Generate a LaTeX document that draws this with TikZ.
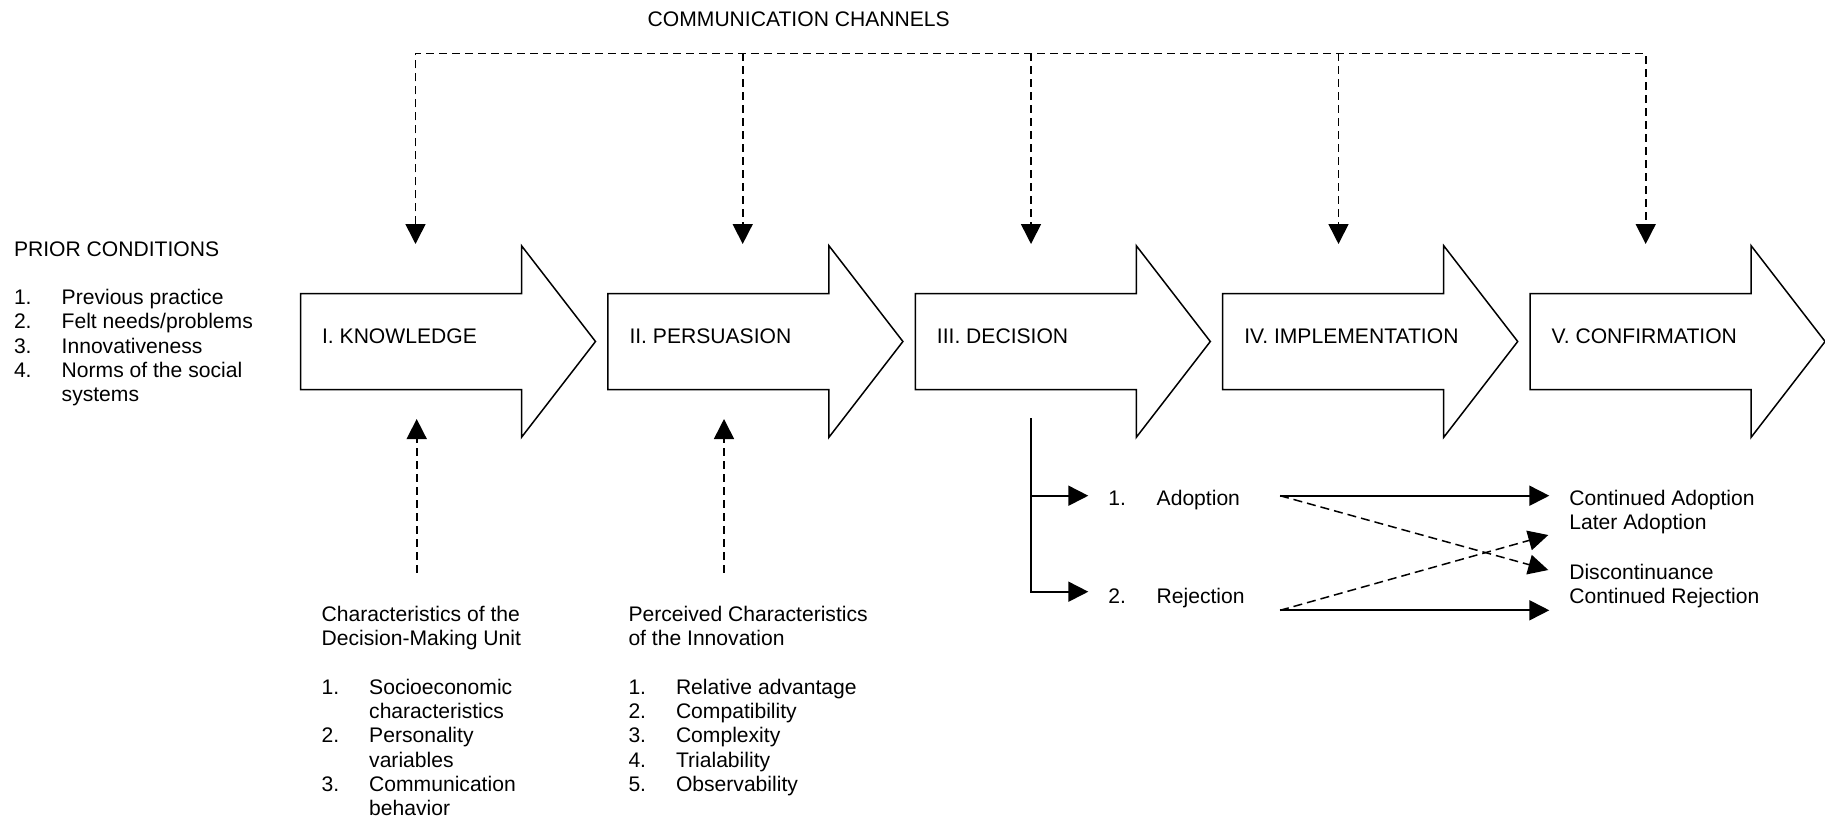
\documentclass[tikz,border=0pt]{standalone}
\usepackage{fontspec}
\setmainfont{Liberation Sans}
\usetikzlibrary{arrows.meta}
\begin{document}
\begin{tikzpicture}[x=1pt,y=-1pt,
  every node/.style={inner sep=0pt, outer sep=0pt, anchor=base west,
    font=\fontsize{21.1}{24.3}\selectfont},
  stageshape/.style={draw=black, line width=1.5pt, line join=miter, fill=white},
  chan/.style={line width=1.6pt, dash pattern=on 8pt off 5pt},
  crossline/.style={line width=1.5pt, dash pattern=on 9pt off 5pt},
  solidline/.style={line width=1.8pt},
  tipend/.style={-{Triangle[width=20pt,length=20pt]}},
  tipboth/.style={{Triangle[width=20pt,length=20pt]}-{Triangle[width=20pt,length=20pt]}},
]
\useasboundingbox (0,0) rectangle (1825,822);

% the five stage arrows with their labels
\foreach \i/\name/\lbl in {0/k/I. KNOWLEDGE, 1/p/II. PERSUASION, 2/d/III. DECISION,
                           3/m/IV. IMPLEMENTATION, 4/c/V. CONFIRMATION} {
  \pgfmathsetmacro\L{300.5+307.4*\i}
  \draw[stageshape] (\L,293.5) -- ++(221,0) -- ++(0,-47.8) -- ++(74,95.8)
    -- ++(-74,95.8) -- ++(0,-47.8) -- ++(-221,0) -- cycle;
  \node (\name) at (\L+21.6,343.5) {\lbl};
}

% communication channels feeding every stage
\node (channels) at (647.7,26) {COMMUNICATION CHANNELS};
\foreach \s/\x in {k/415.5, p/742.7, d/1031, m/1338.5, c/1645.7} {
  \coordinate (\s-top) at (\x,53.3);
  \coordinate (\s-in) at (\x,244);
}
\draw[chan,tipboth] (k-in) -- (k-top) -- (c-top) -- (c-in);
\foreach \s in {p,d,m} \draw[chan,tipend] (\s-top) -- (\s-in);

% prior conditions
\node (prior) at (14,256) {\begin{tabular}[t]{@{}p{47.7pt}@{}l@{}}
  \multicolumn{2}{@{}l@{}}{PRIOR CONDITIONS}\\
  \\
  1. & Previous practice\\
  2. & Felt needs/problems\\
  3. & Innovativeness\\
  4. & Norms of the social\\
     & systems
\end{tabular}};

% characteristics feeding knowledge and persuasion
\coordinate (k-from) at (416.7,572.7);
\coordinate (k-up) at (416.7,419);
\coordinate (p-from) at (724,572.7);
\coordinate (p-up) at (724,419);
\draw[chan,tipend] (k-from) -- (k-up);
\draw[chan,tipend] (p-from) -- (p-up);

\node (unit) at (321.7,621.4) {\begin{tabular}[t]{@{}p{47.5pt}@{}l@{}}
  \multicolumn{2}{@{}l@{}}{Characteristics of the}\\
  \multicolumn{2}{@{}l@{}}{Decision-Making Unit}\\
  \\
  1. & Socioeconomic\\
     & characteristics\\
  2. & Personality\\
     & variables\\
  3. & Communication\\
     & behavior
\end{tabular}};

\node (innov) at (628.5,621.4) {\begin{tabular}[t]{@{}p{47.5pt}@{}l@{}}
  \multicolumn{2}{@{}l@{}}{Perceived Characteristics}\\
  \multicolumn{2}{@{}l@{}}{of the Innovation}\\
  \\
  1. & Relative advantage\\
  2. & Compatibility\\
  3. & Complexity\\
  4. & Trialability\\
  5. & Observability
\end{tabular}};

% decision outcomes
\coordinate (d-out) at (1031,418.3);
\coordinate (adopt-in) at (1088.3,495.7);
\coordinate (reject-in) at (1088.3,591.7);
\draw[solidline,tipend] (d-out) |- (reject-in);
\draw[solidline,tipend] (d-out |- adopt-in) -- (adopt-in);

\node (adopt) at (1108.3,505.5) {\makebox[48.4pt][l]{1.}Adoption};
\node (reject) at (1108.3,603.3) {\makebox[48.4pt][l]{2.}Rejection};

% later consequences
\coordinate (adopt-out) at (1280,495.7);
\coordinate (reject-out) at (1280,610.3);
\coordinate (cont-ad) at (1549.3,495.7);
\coordinate (later) at (1548.3,535);
\coordinate (discont) at (1548.3,570);
\coordinate (cont-rej) at (1549.3,610.3);
\draw[solidline,tipend] (adopt-out) -- (cont-ad);
\draw[solidline,tipend] (reject-out) -- (cont-rej);
\draw[crossline,tipend] (adopt-out) -- (discont);
\draw[crossline,tipend] (reject-out) -- (later);

\node (adopt-res) at (1569.3,505) {\begin{tabular}[t]{@{}l@{}}
  Continued Adoption\\ Later Adoption\end{tabular}};
\node (reject-res) at (1569.3,579) {\begin{tabular}[t]{@{}l@{}}
  Discontinuance\\ Continued Rejection\end{tabular}};
\end{tikzpicture}
\end{document}
